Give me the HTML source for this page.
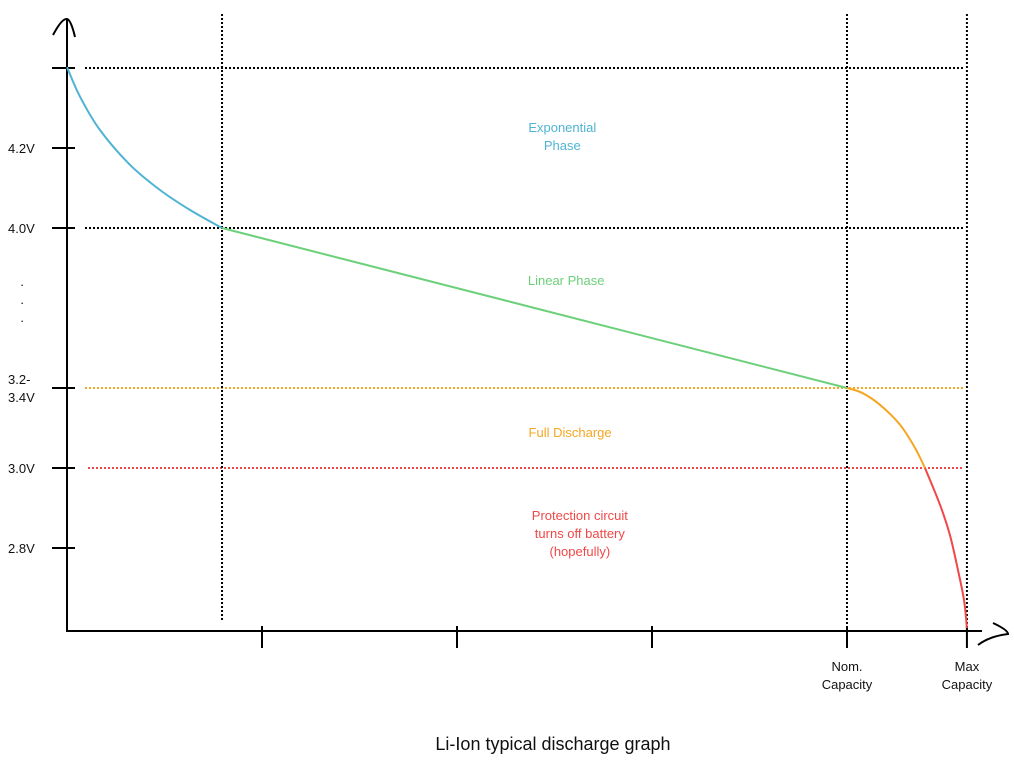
<!DOCTYPE html>
<html><head><meta charset="utf-8"><style>
html,body{margin:0;padding:0;background:#fff;}
svg{display:block;font-family:"Liberation Sans",sans-serif;}
</style></head><body>
<svg id="chart" width="1014" height="767" viewBox="0 0 1014 767">
<g id="grid"></g>
<g id="axes">
<line x1="67" y1="20" x2="67" y2="632" stroke="#000" stroke-width="2"/>
<path d="M53,35 Q62,18 67,19 Q71,20 75,37" fill="none" stroke="#000" stroke-width="2"/>
<line x1="66" y1="631" x2="982" y2="631" stroke="#000" stroke-width="2"/>
<path d="M993,623 Q1008,630 1008,634 Q990,636 978,645" fill="none" stroke="#000" stroke-width="2"/>
</g>
<g id="ticks"></g>
<g id="curves"></g>
<g id="labels" font-size="13"></g>
<text x="553" y="750" text-anchor="middle" font-size="18" fill="#111">Li-Ion typical discharge graph</text>
</svg>
<script>
// data units: capacity c, voltage level v
const yTickLevels=[7,6,5,3,2,1];
const yTickLabels=["","4.2V","4.0V","3.2-\n3.4V","3.0V","2.8V"];
const xTickCaps=[1,2,3,4,4.615];
const xTickLabels=["","","","Nom.\nCapacity","Max\nCapacity"];
const expCurve=[[0,7.01],[0.067,6.64],[0.169,6.225],[0.323,5.79],[0.477,5.475],[0.631,5.225],[0.795,5.0]];
const linCurve=[[0.795,5.0],[4,3.0]];
const fullCurve=[[4,3.0],[4.077,2.94],[4.169,2.79],[4.272,2.54],[4.349,2.25],[4.4,2.0]];
const protCurve=[[4.4,2.0],[4.477,1.54],[4.528,1.16],[4.569,0.725],[4.6,0.35],[4.615,0]];
const hLines=[[7,"#000"],[5,"#000"],[3,"#f5a623"],[2,"#f04848"]];
const vLines=[0.795,4,4.615];
const phaseLabels=[["Exponential\nPhase",2.54,6.26,"#4fb3d3"],["Linear Phase",2.56,4.35,"#6cd07a"],["Full Discharge",2.58,2.45,"#f5a623"],["Protection circuit\nturns off battery\n(hopefully)",2.63,1.41,"#f04848"]];
const X=c=>67+195*c, Y=v=>628-80*v;
const NS="http://www.w3.org/2000/svg";
function mk(t,a,p){const e=document.createElementNS(NS,t);for(const k in a)e.setAttribute(k,a[k]);p.appendChild(e);return e;}
function smooth(pts){const P=pts.map(d=>[X(d[0]),Y(d[1])]);let s="M"+P[0][0]+","+P[0][1];
for(let i=0;i<P.length-1;i++){const p0=P[i-1]||P[i],p1=P[i],p2=P[i+1],p3=P[i+2]||p2;
s+=" C"+(p1[0]+(p2[0]-p0[0])/6)+","+(p1[1]+(p2[1]-p0[1])/6)+" "+(p2[0]-(p3[0]-p1[0])/6)+","+(p2[1]-(p3[1]-p1[1])/6)+" "+p2[0]+","+p2[1];}return s;}
const grid=document.getElementById('grid'),ticks=document.getElementById('ticks'),curves=document.getElementById('curves'),labels=document.getElementById('labels');
hLines.forEach(h=>{const l=mk('line',{x1:h[0]===2?88:85,x2:963,y1:Y(h[0]),y2:Y(h[0]),stroke:h[1],'stroke-width':2,'stroke-dasharray':'2 2'},grid);

});
vLines.forEach(c=>{const l=mk('line',{x1:X(c),x2:X(c),y1:14,y2:c<1?621:631,stroke:'#000','stroke-width':2,'stroke-dasharray':'2 2'},grid);

});
yTickLevels.forEach((v,i)=>{const l=mk('line',{x1:52,x2:75,y1:Y(v),y2:Y(v),stroke:'#000','stroke-width':2},ticks);


const lines=yTickLabels[i].split("\n");
lines.forEach((s,j)=>{const t=mk('text',{x:8,y:Y(v)+5+(j-(lines.length-1)/2)*18,fill:'#111'},labels);t.textContent=s;

});});
["·","·","·"].forEach((s,j)=>{const t=mk('text',{x:20,y:289+j*18,fill:'#111'},labels);t.textContent=s;

});
xTickCaps.forEach((c,i)=>{const l=mk('line',{x1:X(c),x2:X(c),y1:626,y2:648,stroke:'#000','stroke-width':2},ticks);


xTickLabels[i].split("\n").forEach((s,j)=>{if(!s)return;const t=mk('text',{x:X(c),y:671+j*18,'text-anchor':'middle',fill:'#111'},labels);t.textContent=s;

});});
[[expCurve,"#4fb3d3","exponential-phase-line"],[linCurve,"#6cd07a","linear-phase-line"],[fullCurve,"#f5a623","full-discharge-line"],[protCurve,"#f04848","protection-line"]].forEach(s=>{
const p=mk('path',{d:smooth(s[0]),fill:'none',stroke:s[1],'stroke-width':2,'stroke-linejoin':'round'},curves);

});
phaseLabels.forEach(p=>{p[0].split("\n").forEach((s,j)=>{const t=mk('text',{x:X(p[1]),y:Y(p[2])+5+j*18,'text-anchor':'middle',fill:p[3]},labels);t.textContent=s;

});});
</script>
</body></html>
